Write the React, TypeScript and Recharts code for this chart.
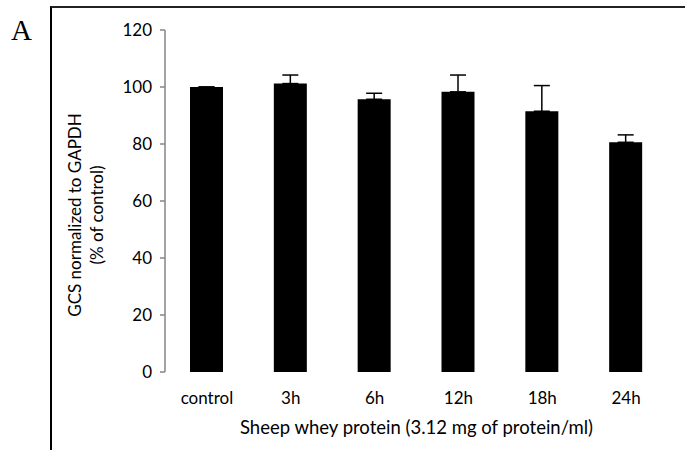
import { BarChart, Bar, XAxis, YAxis, ErrorBar, Label } from "recharts";

const categories = ["control", "3h", "6h", "12h", "18h", "24h"];
const means = [100, 101.2, 95.7, 98.3, 91.5, 80.6];
const sems = [0, 3, 2.1, 5.9, 9, 2.6];
const yTicks = [0, 20, 40, 60, 80, 100, 120];
const edgeTicks = [0, 1, 2, 3, 4, 5, 6];

const data = categories.map((name, i) => ({
  name,
  value: means[i],
  err: [0, sems[i]],
}));

const font = "Lato, 'Open Sans', sans-serif";
const axisGray = "#868686";

const YLabel = () => (
  <text
    transform="translate(86, 215) rotate(-90)"
    textAnchor="middle"
    fontFamily={font}
    fontSize={17}
    fill="#000"
  >
    <tspan x={0} dy={-5}>GCS normalized to GAPDH</tspan>
    <tspan x={0} dy={22}>(% of control)</tspan>
  </text>
);

export default function App() {
  return (
    <div style={{ position: "fixed", left: 0, top: 0, width: 685, height: 450, background: "#fff" }}>
      <div
        style={{
          position: "absolute",
          left: 50,
          top: 6,
          width: 635,
          height: 444,
          borderLeft: "2px solid #000",
          borderTop: "2px solid #222",
        }}
      />
      <div
        style={{
          position: "absolute",
          left: 11,
          top: 13,
          fontFamily: "'Liberation Serif', 'Times New Roman', serif",
          fontSize: 29,
          lineHeight: "34px",
        }}
      >
        A
      </div>
      <BarChart
        width={685}
        height={450}
        data={data}
        margin={{ top: 30, right: 17, bottom: 8, left: 105 }}
        barSize={33}
        style={{ position: "absolute", left: 0, top: 0 }}
      >
        <XAxis
          xAxisId="edges"
          type="number"
          domain={[0, 6]}
          ticks={edgeTicks}
          tick={false}
          axisLine={{ stroke: axisGray, strokeWidth: 1.5 }}
          tickLine={{ stroke: axisGray, strokeWidth: 1.5 }}
          tickSize={6}
          height={0}
          allowDataOverflow
        />
        <XAxis
          xAxisId="cat"
          dataKey="name"
          axisLine={false}
          tickLine={false}
          tickSize={0}
          tickMargin={20}
          height={70}
          tick={{ fill: "#000", fontFamily: font, fontSize: 17 }}
          interval={0}
        >
          <Label
            value="Sheep whey protein (3.12 mg of protein/ml)"
            position="insideBottom"
            offset={8}
            style={{ fill: "#000", fontFamily: font, fontSize: 18.5 }}
          />
        </XAxis>
        <YAxis
          width={60}
          domain={[0, 120]}
          ticks={yTicks}
          interval={0}
          axisLine={{ stroke: axisGray, strokeWidth: 1.5 }}
          tickLine={{ stroke: axisGray, strokeWidth: 1.5 }}
          tickSize={5}
          tickMargin={8}
          tick={{ fill: "#000", fontFamily: font, fontSize: 17 }}
          label={<YLabel />}
        />
        <Bar dataKey="value" xAxisId="cat" fill="#000" isAnimationActive={false}>
          <ErrorBar dataKey="err" direction="y" width={8} stroke="#000" strokeWidth={1.5} />
        </Bar>
      </BarChart>
    </div>
  );
}
